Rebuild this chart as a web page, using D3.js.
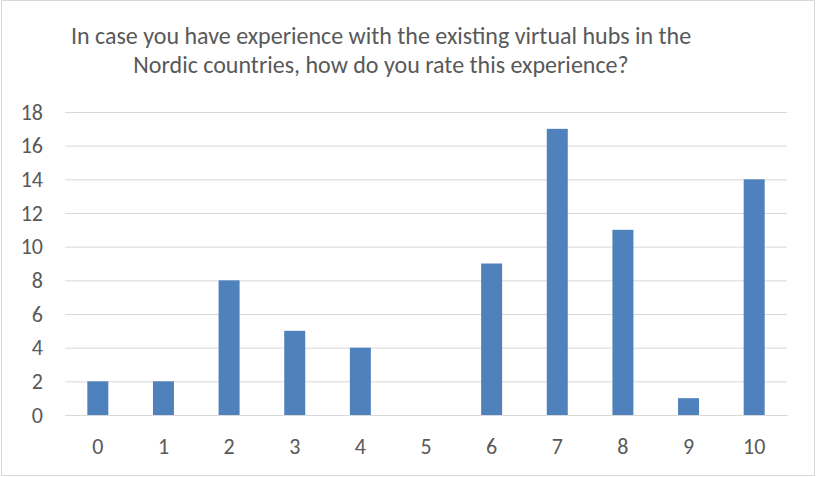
<!DOCTYPE html>
<html>
<head>
<meta charset="utf-8">
<script src="https://cdn.jsdelivr.net/npm/d3@7"></script>
<style>
  html, body { margin: 0; padding: 0; background: #fff; }
  svg { display: block; }
  text { font-family: Carlito, "Liberation Sans Narrow", "Open Sans", sans-serif; fill: #595959; }
</style>
</head>
<body>
<svg id="chart" width="816" height="477"></svg>
<script>
// Ratings (0–10) and how many respondents chose each
const categories = ["0", "1", "2", "3", "4", "5", "6", "7", "8", "9", "10"];
const counts = [2, 2, 8, 5, 4, 0, 9, 17, 11, 1, 14];
const yTicks = [0, 2, 4, 6, 8, 10, 12, 14, 16, 18];
const titleLines = [
  "In case you have experience with the existing virtual hubs in the",
  "Nordic countries, how do you rate this experience?"
];

const svg = d3.select("#chart");
const W = 816, H = 477;
const margin = { left: 65, right: 29, top: 112, bottom: 62 };

// chart frame
svg.append("rect")
  .attr("x", 1.5).attr("y", 0.5)
  .attr("width", W - 3).attr("height", H - 2)
  .attr("fill", "#fff").attr("stroke", "#d9d9d9").attr("stroke-width", 1);

const x = d3.scaleBand()
  .domain(categories)
  .range([margin.left, W - margin.right])
  .paddingInner(0.68).paddingOuter(0.34);

const y = d3.scaleLinear()
  .domain([0, 18])
  .range([H - margin.bottom, margin.top]);

// horizontal gridlines
const yAxis = d3.axisLeft(y).tickValues(yTicks)
  .tickSize(-(W - margin.left - margin.right)).tickPadding(22);
const gy = svg.append("g")
  .attr("transform", `translate(${margin.left},0)`)
  .call(yAxis);
gy.select(".domain").remove();
gy.selectAll(".tick line").attr("stroke", "#d9d9d9").attr("stroke-width", 1);
gy.selectAll(".tick text").attr("font-size", 22).attr("fill", "#595959")
  .attr("font-family", null);

// bars
svg.append("g").selectAll("rect")
  .data(counts)
  .join("rect")
  .attr("x", (d, i) => x(categories[i]))
  .attr("width", x.bandwidth())
  .attr("y", d => y(d))
  .attr("height", d => y(0) - y(d))
  .attr("fill", "#4f81bd");

// category axis
const xAxis = d3.axisBottom(x).tickSize(0).tickPadding(23);
const gx = svg.append("g")
  .attr("transform", `translate(0,${y(0)})`)
  .call(xAxis);
gx.select(".domain").attr("stroke", "#d9d9d9");
gx.selectAll(".tick text").attr("font-size", 22).attr("fill", "#595959")
  .attr("font-family", null);

// title
svg.append("g").selectAll("text")
  .data(titleLines)
  .join("text")
  .attr("x", 381)
  .attr("y", (d, i) => 44 + i * 29)
  .attr("text-anchor", "middle")
  .attr("font-size", 24)
  .text(d => d);
</script>
</body>
</html>
